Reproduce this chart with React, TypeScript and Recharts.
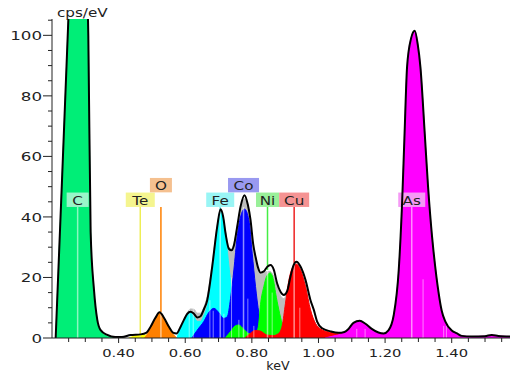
import React from 'react';
import { ComposedChart, Area, Line, XAxis, YAxis, ReferenceLine } from 'recharts';

type Pt = [number, number];

// measured spectrum (black outline), keV / cps per eV
const SPECTRUM: Pt[] = [
  [0.211, 0], [0.23, 52], [0.249, 105], [0.278, 190], [0.305, 122], [0.309, 100], [0.316, 35],
  [0.326, 16], [0.336, 6], [0.346, 2.6], [0.366, 1], [0.39, 0.3], [0.41, 0.3], [0.436, 1.0],
  [0.466, 1.2], [0.484, 1.8], [0.496, 3.7], [0.51, 6.6], [0.523, 8.5], [0.537, 6.5], [0.551, 3.7],
  [0.563, 1.8], [0.574, 1.5], [0.585, 3.5], [0.596, 6.0], [0.606, 8.0], [0.616, 8.7], [0.626, 8.0],
  [0.636, 6.8], [0.646, 7.2], [0.656, 9.5], [0.666, 12.5], [0.681, 23.6], [0.696, 36.8],
  [0.706, 42.5], [0.714, 40], [0.721, 34.6], [0.731, 29.5], [0.739, 29], [0.747, 31], [0.756, 36.8],
  [0.766, 43.4], [0.778, 47.2], [0.788, 44], [0.796, 39], [0.804, 31], [0.811, 26.9], [0.818, 23.5],
  [0.826, 21.6], [0.836, 22], [0.846, 23.5], [0.856, 24.1], [0.866, 22.5], [0.876, 18], [0.886, 15.3],
  [0.896, 14.2], [0.906, 15.5], [0.916, 20.3], [0.925, 24], [0.934, 25.2], [0.946, 23.6],
  [0.961, 19.2], [0.976, 12.5], [0.986, 9.3], [0.996, 5.4], [1.011, 3.2], [1.036, 2.2], [1.06, 1.7],
  [1.078, 2], [1.09, 3], [1.105, 5], [1.124, 5.7], [1.14, 4.8], [1.16, 3], [1.18, 1.8], [1.196, 1.5],
  [1.21, 2.5], [1.226, 7.6], [1.241, 22.5], [1.251, 44.5], [1.258, 66], [1.266, 89.6], [1.278, 99],
  [1.289, 101.5], [1.298, 97], [1.306, 89.6], [1.319, 67.6], [1.329, 50], [1.341, 33.5], [1.35, 24],
  [1.358, 17], [1.37, 9], [1.381, 5.4], [1.4, 2.5], [1.416, 1.5], [1.43, 0.7], [1.46, 0.5],
  [1.5, 0.6], [1.52, 1.0], [1.54, 0.7], [1.575, 0.5],
];

// fitted sum (grey)
const FIT: Pt[] = [
  [0.575, 0], [0.582, 2], [0.596, 6], [0.606, 8.4], [0.616, 9.6], [0.626, 9.5], [0.636, 8.2],
  [0.646, 8.2], [0.656, 10.2], [0.666, 13.8], [0.681, 24.5], [0.696, 37], [0.706, 42.5], [0.714, 40],
  [0.721, 35], [0.731, 30], [0.739, 29.5], [0.747, 31.5], [0.756, 37], [0.766, 43], [0.778, 46],
  [0.788, 44], [0.796, 38], [0.804, 30.5], [0.811, 26], [0.818, 22.5], [0.826, 21], [0.836, 21.5],
  [0.846, 22], [0.855, 22], [0.865, 20.5], [0.876, 17], [0.886, 14], [0.896, 13], [0.905, 15],
  [0.916, 20], [0.925, 23], [0.934, 24.4], [0.946, 22.5], [0.961, 17], [0.976, 9.3], [0.991, 4.8],
  [1.006, 3], [1.02, 2], [1.04, 0],
];

const CARBON: Pt[] = [
  [0.211, 0], [0.23, 52], [0.249, 105], [0.278, 190], [0.305, 122], [0.309, 100], [0.316, 35],
  [0.326, 15.5], [0.336, 5.5], [0.346, 2.2], [0.366, 0.6], [0.39, 0],
];

const TELLURIUM: Pt[] = [
  [0.43, 0], [0.45, 0.7], [0.466, 1.0], [0.48, 1.0], [0.495, 0.5], [0.51, 0],
];

const OXYGEN: Pt[] = [
  [0.478, 0], [0.487, 1.5], [0.496, 3.7], [0.51, 6.5], [0.523, 8.5], [0.537, 6.5], [0.551, 3.7],
  [0.562, 1.5], [0.575, 0],
];

const IRON: Pt[] = [
  [0.575, 0], [0.585, 3], [0.596, 5.8], [0.606, 7.8], [0.616, 8.3], [0.626, 7], [0.636, 5.5],
  [0.646, 5.5], [0.656, 7.5], [0.666, 10.5], [0.681, 21], [0.694, 34], [0.705, 42], [0.714, 39],
  [0.724, 31], [0.735, 20], [0.745, 11.5], [0.756, 5], [0.77, 1.5], [0.79, 0],
];

const COBALT: Pt[] = [
  [0.62, 0], [0.636, 2.6], [0.656, 5.5], [0.671, 8.5], [0.686, 9.8], [0.7, 8.5], [0.715, 6.5],
  [0.726, 7], [0.736, 13], [0.746, 22.5], [0.756, 33.5], [0.766, 40], [0.778, 42.6], [0.791, 39],
  [0.801, 28], [0.811, 17], [0.821, 8.2], [0.831, 2.6], [0.85, 0.8], [0.9, 0],
];

const NICKEL: Pt[] = [
  [0.72, 0], [0.735, 2], [0.75, 4], [0.76, 4.3], [0.775, 3], [0.79, 1.5], [0.805, 1.2], [0.815, 2],
  [0.821, 5], [0.826, 11], [0.836, 17], [0.845, 20.5], [0.855, 21.5], [0.865, 19], [0.871, 15],
  [0.881, 9.3], [0.891, 4.8], [0.9, 2.5], [0.915, 1], [0.94, 0],
];

const COPPER: Pt[] = [
  [0.78, 0], [0.795, 1.5], [0.81, 2.5], [0.825, 2.3], [0.845, 1], [0.865, 0.8], [0.88, 1.5],
  [0.891, 4], [0.901, 11.5], [0.911, 19], [0.921, 23], [0.934, 24.4], [0.946, 22.5], [0.961, 17],
  [0.976, 9.3], [0.991, 4.8], [1.006, 3], [1.03, 2], [1.06, 1.5], [1.09, 1], [1.12, 0],
];

const ARSENIC: Pt[] = [
  [1.02, 0], [1.05, 0.8], [1.066, 1.2], [1.078, 1.8], [1.09, 3], [1.105, 5], [1.124, 5.7],
  [1.14, 4.8], [1.16, 3], [1.18, 1.8], [1.196, 1.5], [1.21, 2.5], [1.226, 7.6], [1.241, 22.5],
  [1.251, 44.5], [1.258, 66], [1.266, 89.6], [1.278, 99], [1.289, 101.5], [1.298, 97], [1.306, 89.6],
  [1.319, 67.6], [1.329, 50], [1.341, 33.5], [1.35, 24], [1.358, 17], [1.37, 9], [1.381, 5.4],
  [1.4, 2.5], [1.416, 1.5], [1.43, 0.7], [1.46, 0.5], [1.5, 0.6], [1.52, 1.0], [1.54, 0.7], [1.575, 0.5],
];

// element marker lines
const TAG_NAMES = ['C', 'Te', 'O', 'Fe', 'Co', 'Ni', 'Cu', 'As'];
const TAG_KEV = [0.277, 0.465, 0.527, 0.705, 0.775, 0.847, 0.927, 1.28];
const TAG_FLOOR = [43.3, 1.0, 8.5, 42, 43.3, 22.5, 24.5, 43.3]; // height of the fill under each line
const TAG_TOP = 43.3;

// faint line markers inside the peaks
const MINOR_KEV = [0.612, 0.624, 0.674, 0.684, 0.716, 0.739, 0.761, 0.788, 0.806, 0.861, 0.944, 1.115, 1.14, 1.314, 1.376, 1.384];
const MINOR_H = [12, 10, 12.5, 9, 8, 20, 6, 13, 4, 15, 10, 3, 3, 19.4, 4, 4];

const X_TICKS = [0.25, 0.3, 0.35, 0.4, 0.45, 0.5, 0.55, 0.6, 0.65, 0.7, 0.75, 0.8, 0.85, 0.9, 0.95, 1.0, 1.05, 1.1, 1.15, 1.2, 1.25, 1.3, 1.35, 1.4, 1.45, 1.5, 1.55];
const X_MAJOR = [0.4, 0.6, 0.8, 1.0, 1.2, 1.4];
const Y_TICKS = [0, 5, 10, 15, 20, 25, 30, 35, 40, 45, 50, 55, 60, 65, 70, 75, 80, 85, 90, 95, 100, 105];

const FONT = '"DejaVu Sans", Verdana, sans-serif';

const SERIES_STYLE: Record<string, string> = {
  fit: '#bdbdbd',
  C: '#00ee77',
  Te: '#ffff00',
  O: '#ff8000',
  Fe: '#00ffff',
  Co: '#0000ff',
  Ni: '#00ff00',
  Cu: '#ff0000',
  As: '#ff00ff',
};

const TAG_STYLE: Record<string, { fill: string; line: string; w: number; raised: boolean }> = {
  C: { fill: '#99f5c9', line: '#99f5c9', w: 22, raised: false },
  Te: { fill: '#f5f58f', line: '#eeee55', w: 29, raised: false },
  O: { fill: '#f5c08f', line: '#ff8000', w: 22, raised: true },
  Fe: { fill: '#99f5f5', line: '#66eeee', w: 28, raised: false },
  Co: { fill: '#9999f0', line: '#8888ee', w: 31, raised: true },
  Ni: { fill: '#99f099', line: '#44ee44', w: 23, raised: false },
  Cu: { fill: '#f59393', line: '#ee2222', w: 30, raised: false },
  As: { fill: '#f599f5', line: '#ee88ee', w: 27, raised: false },
};

const SERIES: [string, Pt[]][] = [
  ['fit', FIT], ['C', CARBON], ['Te', TELLURIUM], ['O', OXYGEN], ['Fe', IRON],
  ['Co', COBALT], ['Ni', NICKEL], ['Cu', COPPER], ['As', ARSENIC],
];

function buildRows() {
  const rows = new Map<number, Record<string, number>>();
  const put = (key: string, pts: Pt[]) => {
    pts.forEach(([k, v]) => {
      const kk = Math.round(k * 1000) / 1000;
      const row = rows.get(kk) ?? { kev: kk };
      row[key] = v;
      rows.set(kk, row);
    });
  };
  SERIES.forEach(([key, pts]) => put(key, pts));
  put('spectrum', SPECTRUM);
  return [...rows.values()].sort((a, b) => a.kev - b.kev);
}

const rows = buildRows();

// the source renders its text stretched sideways
function WideText({ x, y, sx, size = 11.5, anchor = 'start', children }: any) {
  return (
    <text
      transform={`translate(${x} ${y}) scale(${sx} 1)`}
      textAnchor={anchor}
      fontSize={size}
      fontFamily={FONT}
      fill="#222"
    >
      {children}
    </text>
  );
}

function YTick({ x, y, payload }: any) {
  const v = payload.value;
  const major = v % 20 === 0;
  return (
    <g>
      <line x1={x - (major ? 9 : 4)} x2={x} y1={y} y2={y} stroke="#222" />
      {major && (
        <WideText x={x - 10} y={y + 5} sx={1.45} anchor="end">
          {v}
        </WideText>
      )}
    </g>
  );
}

function XTick({ x, y, payload }: any) {
  const v = payload.value;
  const major = X_MAJOR.some((m) => Math.abs(m - v) < 1e-6);
  return (
    <g>
      <line x1={x} x2={x} y1={y} y2={y + (major ? 5 : 4)} stroke="#222" />
      {major && (
        <WideText x={x} y={y + 19} sx={1.4} size={10.5} anchor="middle">
          {v.toFixed(2)}
        </WideText>
      )}
    </g>
  );
}

function Tag({ viewBox, name }: any) {
  const st = TAG_STYLE[name];
  const h = 14.4;
  const top = viewBox.y - h - (st.raised ? 14.6 : 0);
  return (
    <g>
      <rect x={viewBox.x - st.w / 2} y={top} width={st.w} height={h} fill={st.fill} />
      <WideText x={viewBox.x} y={top + 12.4} sx={1.32} anchor="middle">
        {name}
      </WideText>
    </g>
  );
}

export default function App() {
  return (
    <div style={{ position: 'absolute', left: 0, top: 0, width: 510, height: 373, background: '#fff' }}>
      <ComposedChart width={510} height={373} data={rows} margin={{ top: 19, right: 0, left: 0, bottom: 0 }}>
        <XAxis
          xAxisId="top"
          orientation="top"
          type="number"
          dataKey="kev"
          domain={[0.2, 1.575]}
          allowDataOverflow
          height={0}
          tick={false}
          tickLine={false}
          axisLine={{ stroke: '#444', strokeWidth: 1.5 }}
        />
        <XAxis
          type="number"
          dataKey="kev"
          domain={[0.2, 1.575]}
          allowDataOverflow
          ticks={X_TICKS}
          interval={0}
          height={35}
          tickSize={0}
          tickMargin={0}
          tickLine={false}
          tick={<XTick />}
          axisLine={{ stroke: '#222' }}
        />
        <YAxis
          type="number"
          domain={[0, 105.4]}
          allowDataOverflow
          ticks={Y_TICKS}
          interval={0}
          width={52}
          tickSize={0}
          tickMargin={0}
          tickLine={false}
          tick={<YTick />}
          axisLine={{ stroke: '#222' }}
        />
        {SERIES.map(([key]) => (
          <Area
            key={key}
            dataKey={key}
            type="monotone"
            connectNulls
            fill={SERIES_STYLE[key]}
            fillOpacity={1}
            stroke={SERIES_STYLE[key]}
            strokeWidth={1}
            dot={false}
            activeDot={false}
            isAnimationActive={false}
          />
        ))}
        {MINOR_KEV.map((k, i) => (
          <ReferenceLine
            key={`m${i}`}
            segment={[{ x: k, y: 0 }, { x: k, y: MINOR_H[i] }]}
            stroke="#ffffff"
            strokeOpacity={0.5}
            strokeWidth={1}
          />
        ))}
        {TAG_NAMES.map((name, i) => (
          <ReferenceLine
            key={`t${name}`}
            segment={[{ x: TAG_KEV[i], y: TAG_FLOOR[i] }, { x: TAG_KEV[i], y: TAG_TOP }]}
            stroke={TAG_STYLE[name].line}
            strokeWidth={1.5}
            label={<Tag name={name} />}
          />
        ))}
        {TAG_NAMES.map((name, i) => (
          <ReferenceLine
            key={`f${name}`}
            segment={[{ x: TAG_KEV[i], y: 0 }, { x: TAG_KEV[i], y: Math.min(TAG_FLOOR[i], TAG_TOP) }]}
            stroke={name === 'Te' ? TAG_STYLE[name].line : '#ffffff'}
            strokeOpacity={name === 'Te' ? 1 : 0.55}
            strokeWidth={1.5}
          />
        ))}
        <Line
          dataKey="spectrum"
          type="monotone"
          connectNulls
          stroke="#000"
          strokeWidth={2}
          dot={false}
          activeDot={false}
          isAnimationActive={false}
        />
      </ComposedChart>
      <svg width={510} height={373} style={{ position: 'absolute', left: 0, top: 0, pointerEvents: 'none' }}>
        <WideText x={57} y={16.5} sx={1.32}>cps/eV</WideText>
        <WideText x={278} y={370} sx={1.1} anchor="middle">keV</WideText>
      </svg>
    </div>
  );
}
